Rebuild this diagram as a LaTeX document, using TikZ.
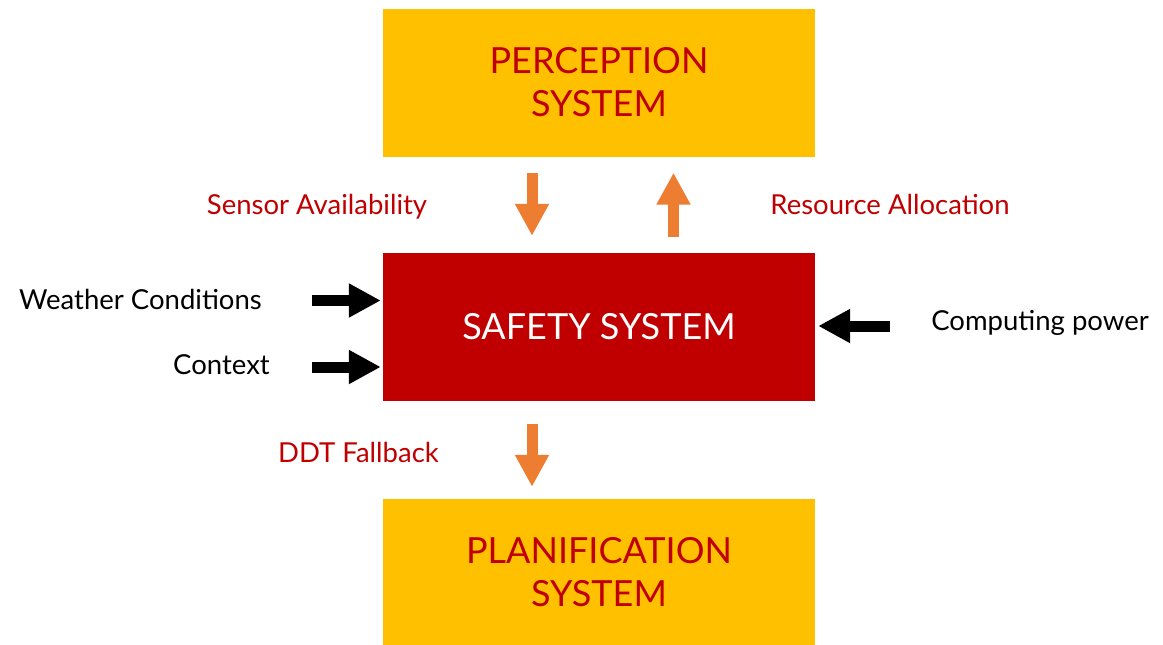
\documentclass[tikz,border=0pt]{standalone}
\usepackage{fontspec}
\setmainfont{Lato}
\usetikzlibrary{arrows.meta}

\definecolor{sysyellow}{HTML}{FFC000}
\definecolor{sysred}{HTML}{C00000}
\definecolor{sysorange}{HTML}{ED7D31}

\tikzset{
    sysbox/.style={fill=sysyellow, minimum width=432pt, minimum height=148pt, inner sep=0pt,
        text=sysred, align=center, font=\fontsize{36}{43}\selectfont},
    safebox/.style={sysbox, fill=sysred, text=white},
    lbl/.style={font=\fontsize{27.5}{32}\selectfont, inner sep=0pt},
    redlbl/.style={lbl, text=sysred},
    orangearrow/.style={draw=sysorange, line width=11pt, -{Triangle[length=32pt,width=32pt]}},
    blackarrow/.style={draw=black, line width=11pt, -{Triangle[length=32pt,width=32pt]}}
}

\begin{document}
\begin{tikzpicture}[x=1pt,y=-1pt]
            \useasboundingbox (0,0) rectangle (1163,645);

            \node[sysbox] (perc) at (599,82.5) {PERCEPTION\\SYSTEM};
            \node[safebox] (safety) at (599,327) {SAFETY SYSTEM};
            \node[sysbox, minimum height=146pt] (plan) at (599,572) {PLANIFICATION\\SYSTEM};

            \node[redlbl] (sensor) at (317,207) {Sensor Availability};
            \node[redlbl] (resource) at (890,204) {Resource Allocation};
            \node[redlbl] (ddt) at (358.5,452) {DDT Fallback};
            \node[lbl] (weather) at (140.5,299) {Weather Conditions};
            \node[lbl] (context) at (221.5,365) {Context};
            \node[lbl] (computing) at (1040,323) {Computing power};

            \draw[orangearrow] ([xshift=-67pt,yshift=-16pt]perc.south) -- ([xshift=-67pt,yshift=17pt]safety.north);
            \draw[orangearrow] ([xshift=74.5pt,yshift=16pt]safety.north) -- ([xshift=74.5pt,yshift=-16pt]perc.south);
            \draw[orangearrow] ([xshift=-67pt,yshift=-23pt]safety.south) -- ([xshift=-67pt,yshift=12pt]plan.north);

            \draw[blackarrow] ([xshift=-71pt,yshift=26.5pt]safety.west) -- ([xshift=-2pt,yshift=26.5pt]safety.west);
            \draw[blackarrow] ([xshift=-71pt,yshift=-40pt]safety.west) -- ([xshift=-2pt,yshift=-40pt]safety.west);
            \draw[blackarrow] ([xshift=75pt,yshift=1pt]safety.east) -- ([xshift=3pt,yshift=1pt]safety.east);
        \end{tikzpicture}
\end{document}
